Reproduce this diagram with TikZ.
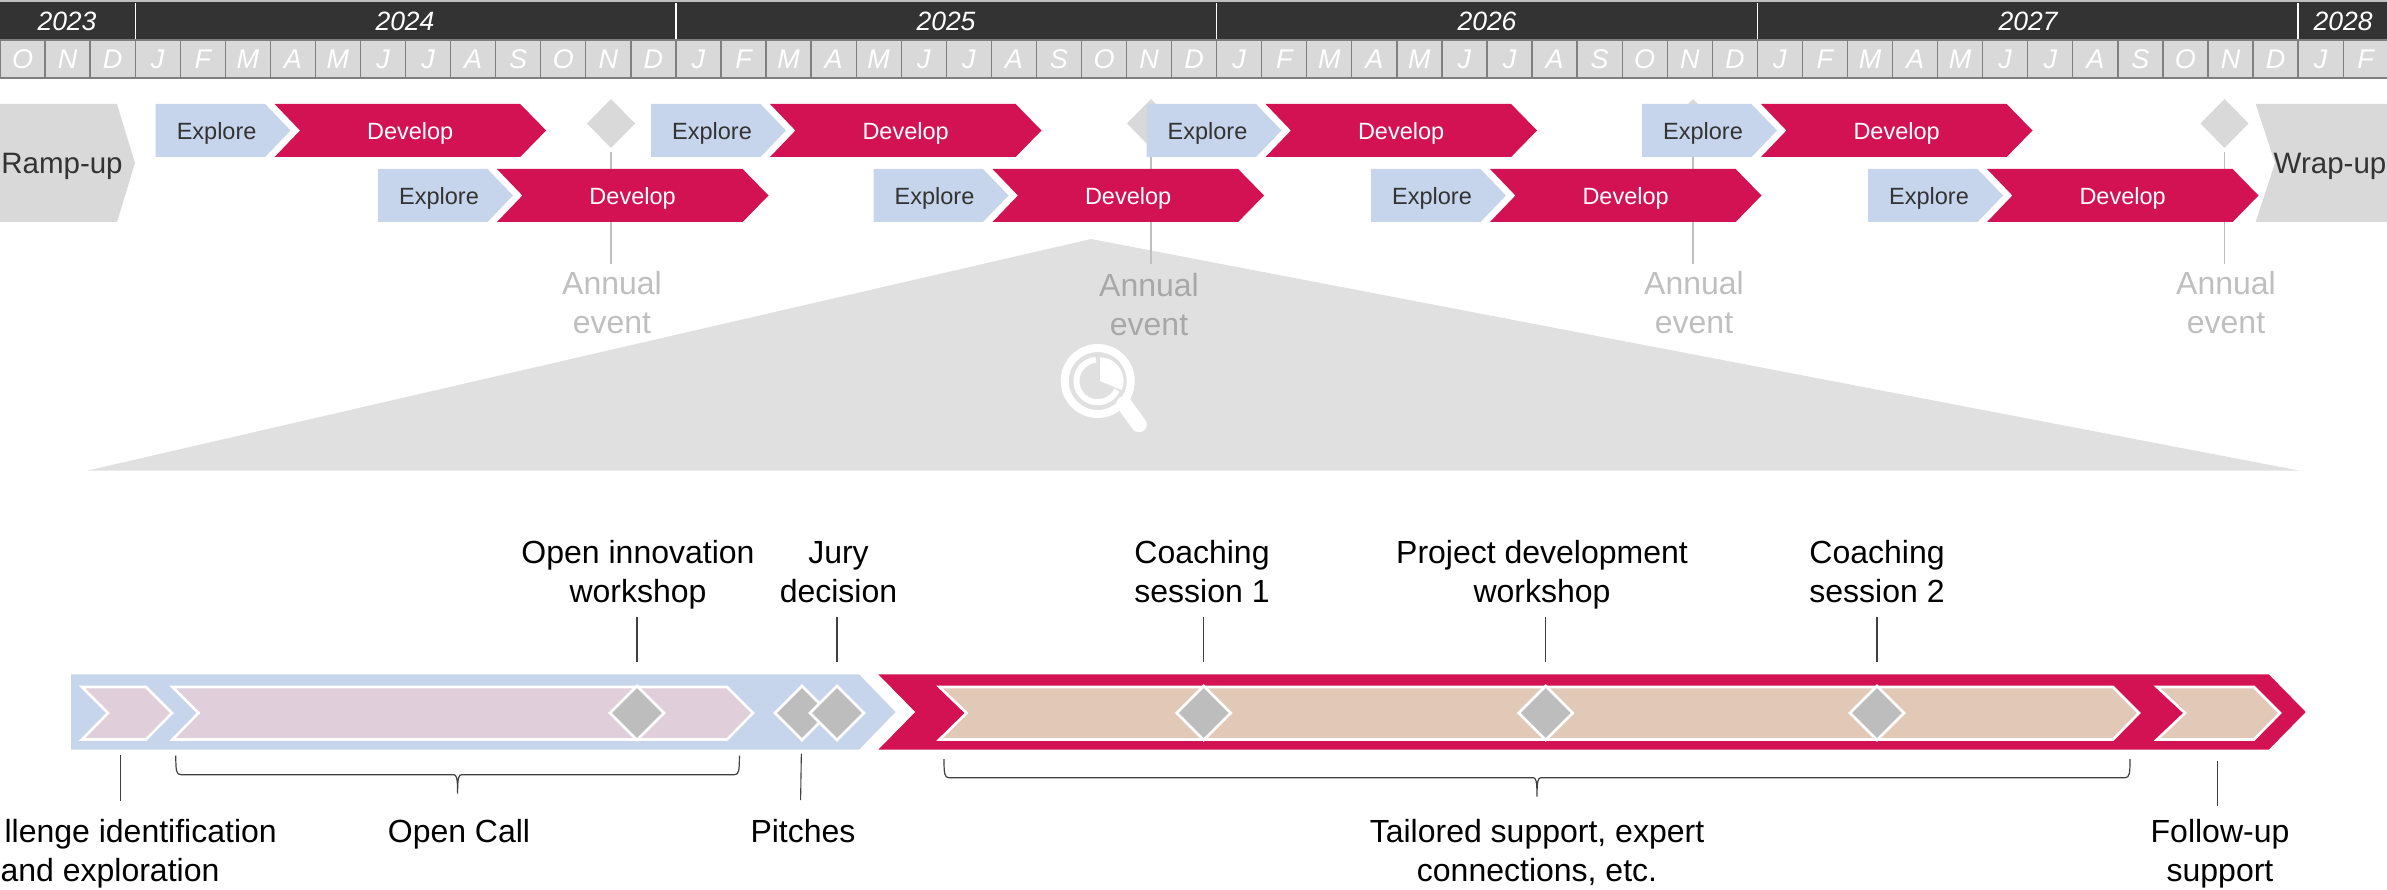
\documentclass[tikz,border=0pt]{standalone}
\usepackage{fontspec}
\setmainfont{Liberation Sans}
\usetikzlibrary{shapes.geometric}
\definecolor{dark}{HTML}{333333}
\definecolor{cellgrey}{HTML}{D9D9D9}
\definecolor{cellline}{HTML}{7F7F7F}
\definecolor{blueb}{HTML}{C6D5EC}
\definecolor{redb}{HTML}{D21252}
\definecolor{pinkc}{HTML}{E0CEDA}
\definecolor{tanc}{HTML}{E2C9B7}
\definecolor{triang}{HTML}{E0E0E0}
\definecolor{evgrey}{HTML}{BFBFBF}
\definecolor{dmd}{HTML}{BDBDBD}
\definecolor{callout}{HTML}{404040}
\tikzset{
  yearlab/.style={font=\fontsize{26.5}{30}\selectfont\itshape,text=white,anchor=base,inner sep=0pt},
  monthcell/.style={draw=cellline,line width=1.3pt,fill=cellgrey,minimum width=45.06pt,minimum height=38pt,inner sep=0pt,outer sep=0pt,
    text=white,font=\fontsize{27}{30}\selectfont\itshape},
  barlab/.style={font=\fontsize{23.5}{28}\selectfont,anchor=base,inner sep=0pt},
  biglab/.style={font=\fontsize{32}{39}\selectfont,anchor=base,align=center,inner sep=0pt},
  endlab/.style={font=\fontsize{29.5}{34}\selectfont,anchor=base,inner sep=0pt,text=dark},
  evlab/.style={biglab,text=evgrey},
  evline/.style={draw=evgrey,line width=1.3pt},
  evdia/.style={shape=diamond,fill=cellgrey,minimum width=48pt,minimum height=49pt,inner sep=0pt,outer sep=0pt},
  chevdia/.style={shape=diamond,fill=dmd,draw=white,line width=2.6pt,minimum width=54pt,minimum height=54pt,inner sep=0pt,outer sep=0pt},
  inchev/.style={draw=white,line width=2.6pt,miter limit=10},
  co/.style={draw=callout,line width=1.1pt},
  bracel/.style={draw=callout,line width=1.2pt},
}
% \projbar{start x}{top y}{name}
\newcommand{\projbar}[3]{%
  \fill[blueb] (#1,#2) -- ++(109.5,0) -- ++(25.5,26.5) -- ++(-25.5,26.5) -- ++(-109.5,0) -- cycle;
  \fill[redb] (#1+119,#2) -- (#1+364.6,#2) -- (#1+390.5,#2+26.5) -- (#1+364.6,#2+53) -- (#1+119,#2+53) -- (#1+144.4,#2+26.5) -- cycle;
  \node[barlab,text=dark] (ex#3) at (#1+61,#2+36) {Explore};
  \node[barlab,text=white] (de#3) at (#1+254.6,#2+36) {Develop};
}
% \curlybr{x1}{xtip}{x2}{y0}{ymid}{ytip}
\newcommand{\curlybr}[6]{%
  \draw[bracel] (#1,#4) .. controls (#1,#5-4) and (#1+0.5,#5) .. (#1+5,#5) -- (#2-4,#5)
    .. controls (#2-1,#5) and (#2,#5+3) .. (#2,#6)
    .. controls (#2,#5+3) and (#2+1,#5) .. (#2+4,#5) -- (#3-5,#5)
    .. controls (#3-0.5,#5) and (#3,#5-4) .. (#3,#4);
}
\begin{document}
\begin{tikzpicture}[x=1pt,y=-1pt]
\useasboundingbox (0,0) rectangle (2387,890);
% year band
\fill[evgrey] (0,0) rectangle (2387,2);
\fill[dark] (0,2) rectangle (2387,40);
\foreach \i in {135.2,676,1216.7,1757.5,2298}{ \draw[white,line width=1.4pt] (\i,3) -- (\i,40); }
\node[yearlab] (y23) at (67,31) {2023};
\node[yearlab] (y24) at (405,31) {2024};
\node[yearlab] (y25) at (946,31) {2025};
\node[yearlab] (y26) at (1487,31) {2026};
\node[yearlab] (y27) at (2028,31) {2027};
\node[yearlab] (y28) at (2343,31) {2028};
% month cells
\foreach \l [count=\i from 0] in {O,N,D,J,F,M,A,M,J,J,A,S,O,N,D,J,F,M,A,M,J,J,A,S,O,N,D,J,F,M,A,M,J,J,A,S,O,N,D,J,F,M,A,M,J,J,A,S,O,N,D,J,F}{
  \node[monthcell] (m\i) at ({135.2+45.06*(\i-3)+22.53},59) {\l};
}
% magnified triangle
\fill[triang] (87,470.7) -- (1091,239) -- (2300,470.7) -- cycle;
% annual events
\foreach \n/\x in {a/611,b/1151,c/1693,d/2224.5}{
  \node[evdia] (ev\n) at (\x,123.5) {};
  \coordinate (evend\n) at (\x,264);
  \draw[evline,shorten <=4pt] (ev\n) -- (evend\n);
}
\node[evlab] (la) at (612,334) {Annual\\event};
\node[biglab,text=black!34] (lb) at (1149,336) {Annual\\event};
\node[evlab] (lc) at (1694,334) {Annual\\event};
\node[evlab] (ld) at (2226,334) {Annual\\event};
% project bars
\projbar{155.6}{104}{a}
\projbar{651}{104}{b}
\projbar{1146.5}{104}{c}
\projbar{1642}{104}{d}
\projbar{378}{169}{e}
\projbar{873.5}{169}{f}
\projbar{1371}{169}{g}
\projbar{1868}{169}{h}
% ramp-up, wrap-up
\fill[cellgrey] (0,104) -- (117,104) -- (135,163) -- (117,222) -- (0,222) -- cycle;
\fill[cellgrey] (2255.6,104) -- (2387,104) -- (2387,222) -- (2255.6,222) -- (2275,163) -- cycle;
\node[endlab] (ramp) at (62,174) {Ramp-up};
\node[endlab] (wrap) at (2330,174) {Wrap-up};
% magnifier
\begin{scope}[white]
  \coordinate (mg) at (1097.7,381);
  \draw[line width=8pt] (mg) circle[radius=33];
  \draw[line width=6pt] (mg) ++(-95:21.3) arc[start angle=-95,end angle=-335,radius=21.3];
  \fill (1100,381) -- ++(-90:23.6) arc[start angle=-90,end angle=22.5,radius=23.6] -- cycle;
  \draw[line width=15.5pt,line cap=round] (1124,404) -- (1139,424.5);
\end{scope}
% lower phase bars
\fill[blueb] (71,674.3) -- (859,674.3) -- (895.5,712) -- (859,749.7) -- (71,749.7) -- cycle;
\fill[redb] (878.3,674.3) -- (2268.7,674.3) -- (2305.7,712) -- (2268.7,749.7) -- (878.3,749.7) -- (915.3,712) -- cycle;
\fill[pinkc] (82,687) -- (146,687) -- (172,713) -- (146,739.5) -- (82,739.5) -- (108,713) -- cycle;
\draw[inchev] (82,687) -- (146,687) -- (172,713) -- (146,739.5) -- (82,739.5) -- (108,713) -- cycle;
\fill[pinkc] (172.5,687) -- (727,687) -- (753,713) -- (727,739.5) -- (172.5,739.5) -- (198.5,713) -- cycle;
\draw[inchev] (172.5,687) -- (727,687) -- (753,713) -- (727,739.5) -- (172.5,739.5) -- (198.5,713) -- cycle;
\fill[tanc] (939.5,687) -- (2113,687) -- (2139,713) -- (2113,739.5) -- (939.5,739.5) -- (966.5,713) -- cycle;
\draw[inchev] (939.5,687) -- (2113,687) -- (2139,713) -- (2113,739.5) -- (939.5,739.5) -- (966.5,713) -- cycle;
\fill[tanc] (2157,687) -- (2254,687) -- (2280,713) -- (2254,739.5) -- (2157,739.5) -- (2185,713) -- cycle;
\draw[inchev] (2157,687) -- (2254,687) -- (2280,713) -- (2254,739.5) -- (2157,739.5) -- (2185,713) -- cycle;
% milestones
\node[chevdia] (dOI) at (637,713) {};
\node[chevdia] (dP) at (802,713) {};
\node[chevdia] (dJ) at (837,713) {};
\node[chevdia] (dC1) at (1203.7,713) {};
\node[chevdia] (dPD) at (1545.7,713) {};
\node[chevdia] (dC2) at (1877,713) {};
% top labels and callouts
\node[biglab] (tOI) at (638,602.5) {Open innovation\\workshop};
\node[biglab] (tJ) at (838.5,602.5) {Jury\\decision};
\node[biglab] (tC1) at (1202,602.5) {Coaching\\session 1};
\node[biglab] (tPD) at (1542,602.5) {Project development\\workshop};
\node[biglab] (tC2) at (1877,602.5) {Coaching\\session 2};
\foreach \d/\x in {dOI/637,dJ/837,dC1/1203.7,dPD/1545.7,dC2/1877}{
  \coordinate (top\d) at (\x,617);
  \draw[co,shorten <=24pt] (\d) -- (top\d);
}
% bottom callouts
\coordinate (cha) at (120.6,755);
\coordinate (chb) at (120.6,800.7);
\draw[co] (cha) -- (chb);
\coordinate (pib) at (800.6,800);
\draw[co,shorten <=14pt] (dP) -- (pib);
\coordinate (foa) at (2217.5,760.7);
\coordinate (fob) at (2217.5,805.7);
\draw[co] (foa) -- (fob);
\curlybr{175.8}{457.6}{739.4}{755.7}{774.7}{793.7}
\curlybr{944}{1537}{2130}{759}{777.7}{796.7}
% bottom labels
\node[font=\fontsize{32}{39}\selectfont,inner sep=0pt,anchor=base east] (bCa) at (277,842) {llenge identification};
\node[biglab] (bCb) at (110,881) {and exploration};
\node[biglab] (bOC) at (459,842) {Open Call};
\node[biglab] (bP) at (803,842) {Pitches};
\node[biglab] (bT) at (1537,881) {Tailored support, expert\\connections, etc.};
\node[biglab] (bF) at (2220,881) {Follow-up\\support};
\end{tikzpicture}
\end{document}
